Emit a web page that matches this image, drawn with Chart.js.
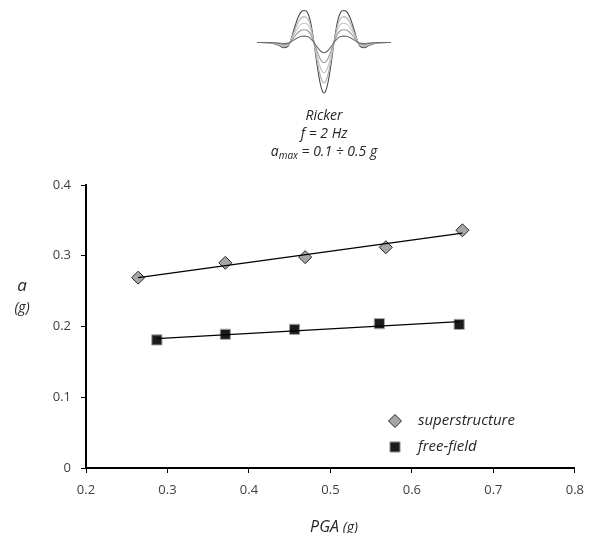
<!DOCTYPE html>
<html><head><meta charset="utf-8">
<script src="https://cdn.jsdelivr.net/npm/chart.js@4.4.0/dist/chart.umd.min.js"></script>
<style>
html,body{margin:0;padding:0;background:#fff;}
#wrap{position:relative;width:593px;height:533px;overflow:hidden;}
#main{position:absolute;left:0;top:0;}
#wave{position:absolute;left:257px;top:0;}
</style></head><body>
<div id="wrap">
<canvas id="main" width="593" height="533"></canvas>
<canvas id="wave" width="134" height="100"></canvas>
</div>
<script>
// ---- main chart data ----
const superPGA = [0.264, 0.371, 0.469, 0.568, 0.662];
const superAcc = [0.269, 0.290, 0.298, 0.312, 0.336];
const freePGA  = [0.287, 0.371, 0.456, 0.560, 0.658];
const freeAcc  = [0.181, 0.189, 0.196, 0.204, 0.203];
const superTrendPGA = [0.264, 0.662];
const superTrendAcc = [0.269, 0.332];
const freeTrendPGA  = [0.287, 0.658];
const freeTrendAcc  = [0.183, 0.207];
const xTickValues = [0.2, 0.3, 0.4, 0.5, 0.6, 0.7, 0.8];
const xTickLabels = ['0.2', '0.3', '0.4', '0.5', '0.6', '0.7', '0.8'];
const yTickValues = [0, 0.1, 0.2, 0.3, 0.4];
const yTickLabels = ['0', '0.1', '0.2', '0.3', '0.4'];
const seriesNames = ['superstructure', 'free-field'];
const titleLines = ['Ricker', 'f = 2 Hz'];
const amaxParts = ['a', 'max', ' = 0.1 ÷ 0.5 g'];
const xTitleParts = ['PGA', ' (g)'];
const yTitleParts = ['a', '(g)'];

// ---- Ricker wavelet inset (a_max = 0.5 g curve) ----
const waveTime = [-0.67,-0.56,-0.50,-0.45,-0.40,-0.37,-0.34,-0.30,-0.26,-0.225,-0.195,-0.165,-0.135,-0.10,-0.07,-0.04,-0.015,0,
                  0.015,0.04,0.07,0.10,0.135,0.165,0.195,0.225,0.26,0.30,0.34,0.37,0.40,0.45,0.50,0.56,0.67];
const waveShape05 = [0,-0.003,-0.012,-0.03,-0.052,-0.045,0,0.13,0.25,0.31,0.32,0.30,0.21,0,-0.22,-0.40,-0.49,-0.505,
                  -0.49,-0.40,-0.22,0,0.21,0.30,0.32,0.31,0.25,0.13,0,-0.045,-0.052,-0.03,-0.012,-0.003,0];
const waveAmax = [0.1, 0.2, 0.3, 0.4, 0.5];
const waveColors = ['#6a6a6a', '#9a9a9a', '#c4c4c4', '#b0b0b0', '#4a4a4a'];

Chart.defaults.font.family = '"Open Sans", "DejaVu Sans", sans-serif';

const pts = (xs, ys) => xs.map((x, i) => ({x: x, y: ys[i]}));

const superStyle = {pointStyle: 'rectRot', radius: 6.5, bg: '#a6a6a6', border: '#262626'};
const freeStyle  = {pointStyle: 'rect', radius: 7.2, bg: '#1c1c1c', border: '#a8a8a8'};

const textPlugin = {
  id: 'texts',
  afterDraw(chart) {
    const c = chart.ctx;
    c.save();
    c.fillStyle = '#262626';
    c.textBaseline = 'middle';
    c.textAlign = 'center';
    c.font = 'italic 14px "Open Sans"';
    c.fillText(titleLines[0], 324, 116);
    c.fillText(titleLines[1], 324, 134);
    // a_max line
    c.textAlign = 'left';
    const f1 = 'italic 14px "Open Sans"', f2 = 'italic 10px "Open Sans"';
    c.font = f1; const w1 = c.measureText(amaxParts[0]).width, w3 = c.measureText(amaxParts[2]).width;
    c.font = f2; const w2 = c.measureText(amaxParts[1]).width;
    let x0 = 324 - (w1 + w2 + w3) / 2;
    c.font = f1; c.fillText(amaxParts[0], x0, 152);
    c.font = f2; c.fillText(amaxParts[1], x0 + w1, 156);
    c.font = f1; c.fillText(amaxParts[2], x0 + w1 + w2, 152);
    // y title
    c.textAlign = 'center';
    c.textBaseline = 'alphabetic';
    c.font = 'italic 17px "Open Sans"';
    c.fillText(yTitleParts[0], 22, 291);
    c.font = 'italic 14px "Open Sans"';
    c.fillText(yTitleParts[1], 22, 312);
    // x title
    c.textAlign = 'left';
    const fa = 'italic 16px "Open Sans"', fb = 'italic 14px "Open Sans"';
    c.font = fa; const pa = c.measureText(xTitleParts[0]).width;
    c.font = fb; const pb = c.measureText(xTitleParts[1]).width;
    const xs = 334 - (pa + pb) / 2;
    c.font = fa; c.fillText(xTitleParts[0], xs, 532);
    c.font = fb; c.fillText(xTitleParts[1], xs + pa, 532);
    // legend
    const items = [[superStyle, 421], [freeStyle, 447]];
    items.forEach((it, i) => {
      const s = it[0];
      c.fillStyle = s.bg; c.strokeStyle = s.border; c.lineWidth = 1;
      Chart.helpers.drawPoint(c, {pointStyle: s.pointStyle, radius: s.radius, borderWidth: 1}, 395, it[1]);
      c.fillStyle = '#262626';
      c.font = 'italic 15px "Open Sans"';
      c.textBaseline = 'middle';
      c.fillText(seriesNames[i], 418, it[1]);
    });
    c.restore();
  }
};

new Chart(document.getElementById('main'), {
  type: 'scatter',
  data: {
    datasets: [
      {label: 'trend1', data: pts(superTrendPGA, superTrendAcc), showLine: true, pointRadius: 0, borderColor: '#000', borderWidth: 1.3, fill: false},
      {label: 'trend2', data: pts(freeTrendPGA, freeTrendAcc), showLine: true, pointRadius: 0, borderColor: '#000', borderWidth: 1.3, fill: false},
      {label: seriesNames[0], data: pts(superPGA, superAcc), showLine: false, pointStyle: superStyle.pointStyle, pointRadius: superStyle.radius,
       pointBackgroundColor: superStyle.bg, pointBorderColor: superStyle.border, pointBorderWidth: 1},
      {label: seriesNames[1], data: pts(freePGA, freeAcc), showLine: false, pointStyle: freeStyle.pointStyle, pointRadius: freeStyle.radius,
       pointBackgroundColor: freeStyle.bg, pointBorderColor: freeStyle.border, pointBorderWidth: 1}
    ]
  },
  options: {
    responsive: false, animation: false,
    layout: {padding: {top: 185, right: 18, left: 0, bottom: 0}},
    plugins: {legend: {display: false}, tooltip: {enabled: false}},
    scales: {
      x: {
        type: 'linear', min: 0.2, max: 0.8,
        afterBuildTicks: s => { s.ticks = xTickValues.map(v => ({value: v})); },
        afterFit: s => { s.height = 65; },
        grid: {drawOnChartArea: false, drawTicks: true, tickLength: 5, color: '#000', lineWidth: 1},
        border: {display: true, color: '#000', width: 2},
        ticks: {font: {size: 13}, color: '#404040', padding: 9, maxRotation: 0, callback: (v, i) => xTickLabels[i]}
      },
      y: {
        type: 'linear', min: 0, max: 0.4,
        afterBuildTicks: s => { s.ticks = yTickValues.map(v => ({value: v})); },
        afterFit: s => { s.width = 86; },
        grid: {drawOnChartArea: false, drawTicks: true, tickLength: 5, color: '#000', lineWidth: 1},
        border: {display: true, color: '#000', width: 2},
        ticks: {font: {size: 13}, color: '#404040', padding: 10, callback: (v, i) => yTickLabels[i]}
      }
    }
  },
  plugins: [textPlugin]
});

new Chart(document.getElementById('wave'), {
  type: 'line',
  data: {
    datasets: waveAmax.map((a, k) => ({
      data: waveTime.map((t, i) => ({x: t, y: waveShape05[i] * a / 0.5})),
      borderColor: waveColors[k], borderWidth: 1.1, pointRadius: 0, fill: false,
      cubicInterpolationMode: 'monotone'
    }))
  },
  options: {
    responsive: false, animation: false,
    layout: {padding: 0},
    plugins: {legend: {display: false}, tooltip: {enabled: false}},
    scales: {
      x: {type: 'linear', min: -0.67, max: 0.67, display: false},
      y: {type: 'linear', min: -0.575, max: 0.425, display: false}
    }
  }
});
</script>
</body></html>
